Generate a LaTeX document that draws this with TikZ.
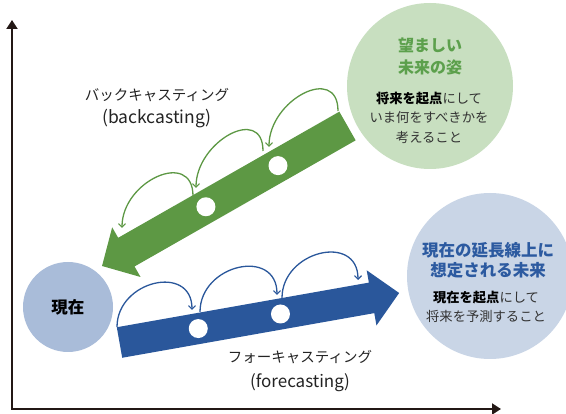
\documentclass[tikz,border=0pt]{standalone}
\usepackage{fontspec}
\setmainfont{Noto Sans CJK JP}
\usetikzlibrary{arrows.meta}
\definecolor{greenA}{RGB}{93,152,68}
\definecolor{greenLight}{RGB}{200,223,192}
\definecolor{greenText}{RGB}{92,160,76}
\definecolor{blueA}{RGB}{42,87,155}
\definecolor{blueLight}{RGB}{201,213,230}
\definecolor{blueSmall}{RGB}{169,188,217}
\definecolor{blueText}{RGB}{44,90,160}
\definecolor{axiscol}{RGB}{35,24,21}
\definecolor{bodytext}{RGB}{51,51,51}
\definecolor{labeltext}{RGB}{35,35,35}
\begin{document}
\begin{tikzpicture}[x=1pt,y=-1pt,
  bubble/.style={circle, inner sep=0pt, minimum size=#1},
  dotnode/.style={circle, fill=white, inner sep=0pt, minimum size=19pt},
  hop/.style={line width=1.3pt, -{Straight Barb[length=3.5pt,width=7pt,line width=1.2pt]}, out=90, in=90, looseness=1.55},
  lbl/.style={align=center, inner sep=0pt},
]
\useasboundingbox (0,0) rectangle (566,414);

% axes
\coordinate (origin) at (12,409);
\coordinate (ytip) at (12,20);
\coordinate (xtip) at (501,409);
\draw[axiscol, line width=2pt, {Triangle[length=9pt,width=11pt]}-{Triangle[length=9pt,width=11pt]}] (ytip) -- (origin) -- (xtip);

% circles
\node[bubble=166pt, fill=greenLight] (future) at (430,86) {};
\node[bubble=166pt, fill=blueLight] (forecast) at (490,276) {};
\node[bubble=90pt, fill=blueSmall, font=\bfseries\fontsize{16.5}{18}\selectfont, text=black] (now) at (68,307) {現在};

% green arrow (backcasting)
\begin{scope}[shift={(347.5,126)}, rotate=209.7]
  \fill[greenA] (0,-16.5) -- (254.6,-16.5) -- (254.6,-28.6) -- (282.6,0) -- (254.6,28.6) -- (254.6,16.5) -- (0,16.5) -- cycle;
  \node[dotnode] (g1) at (80,0) {};
  \node[dotnode] (g2) at (163,0) {};
\end{scope}

% blue arrow (forecasting)
\begin{scope}[shift={(119.5,342.5)}, rotate=10.04]
  \fill[blueA] (0,-15.5) -- (256,-15.5) -- (256,-28) -- (284,0) -- (256,28) -- (256,15.5) -- (0,15.5) -- cycle;
  \node[dotnode] (b1) at (80,0) {};
  \node[dotnode] (b2) at (163.5,0) {};
\end{scope}

% green hops
\coordinate (gAs) at (338,111);
\coordinate (gAe) at (269,147);
\coordinate (gBs) at (263,151);
\coordinate (gBe) at (196,188);
\coordinate (gCs) at (193,196);
\coordinate (gCe) at (122,228);
\draw[hop, greenA] (gAs) to (gAe);
\draw[hop, greenA] (gBs) to (gBe);
\draw[hop, greenA] (gCs) to (gCe);

% blue hops
\coordinate (b1s) at (117,327);
\coordinate (b1e) at (192,310);
\coordinate (b2s) at (200,312);
\coordinate (b2e) at (277,295);
\coordinate (b3s) at (282,298);
\coordinate (b3e) at (358,280);
\draw[hop, blueA] (b1s) to (b1e);
\draw[hop, blueA] (b2s) to (b2e);
\draw[hop, blueA] (b3s) to (b3e);

% labels
\node[lbl, text=labeltext, font=\fontsize{14.5}{23}\selectfont] (backlabel) at (157,108) {バックキャスティング\\{\fontsize{17.5}{23}\selectfont (backcasting)}};
\node[lbl, text=labeltext, font=\fontsize{14.5}{24.5}\selectfont] (forelabel) at (300,371) {フォーキャスティング\\{\fontsize{17}{24.5}\selectfont (forecasting)}};

\node[lbl, text=greenText, font=\bfseries\fontsize{16}{22}\selectfont] (futuretitle) at (430,56) {望ましい\\未来の姿};
\node[lbl, text=bodytext, font=\fontsize{13.3}{19.5}\selectfont] (futurebody) at (429,117.5) {{\bfseries\color{black}将来を起点}にして\\いま何をすべきかを\\考えること};

\node[lbl, text=blueText, font=\bfseries\fontsize{16.5}{20}\selectfont] (foretitle) at (488,260) {現在の延長線上に\\想定される未来};
\node[lbl, text=bodytext, font=\fontsize{13.3}{19}\selectfont] (forebody) at (486,306.5) {{\bfseries\color{black}現在を起点}にして\\将来を予測すること};
\end{tikzpicture}
\end{document}
